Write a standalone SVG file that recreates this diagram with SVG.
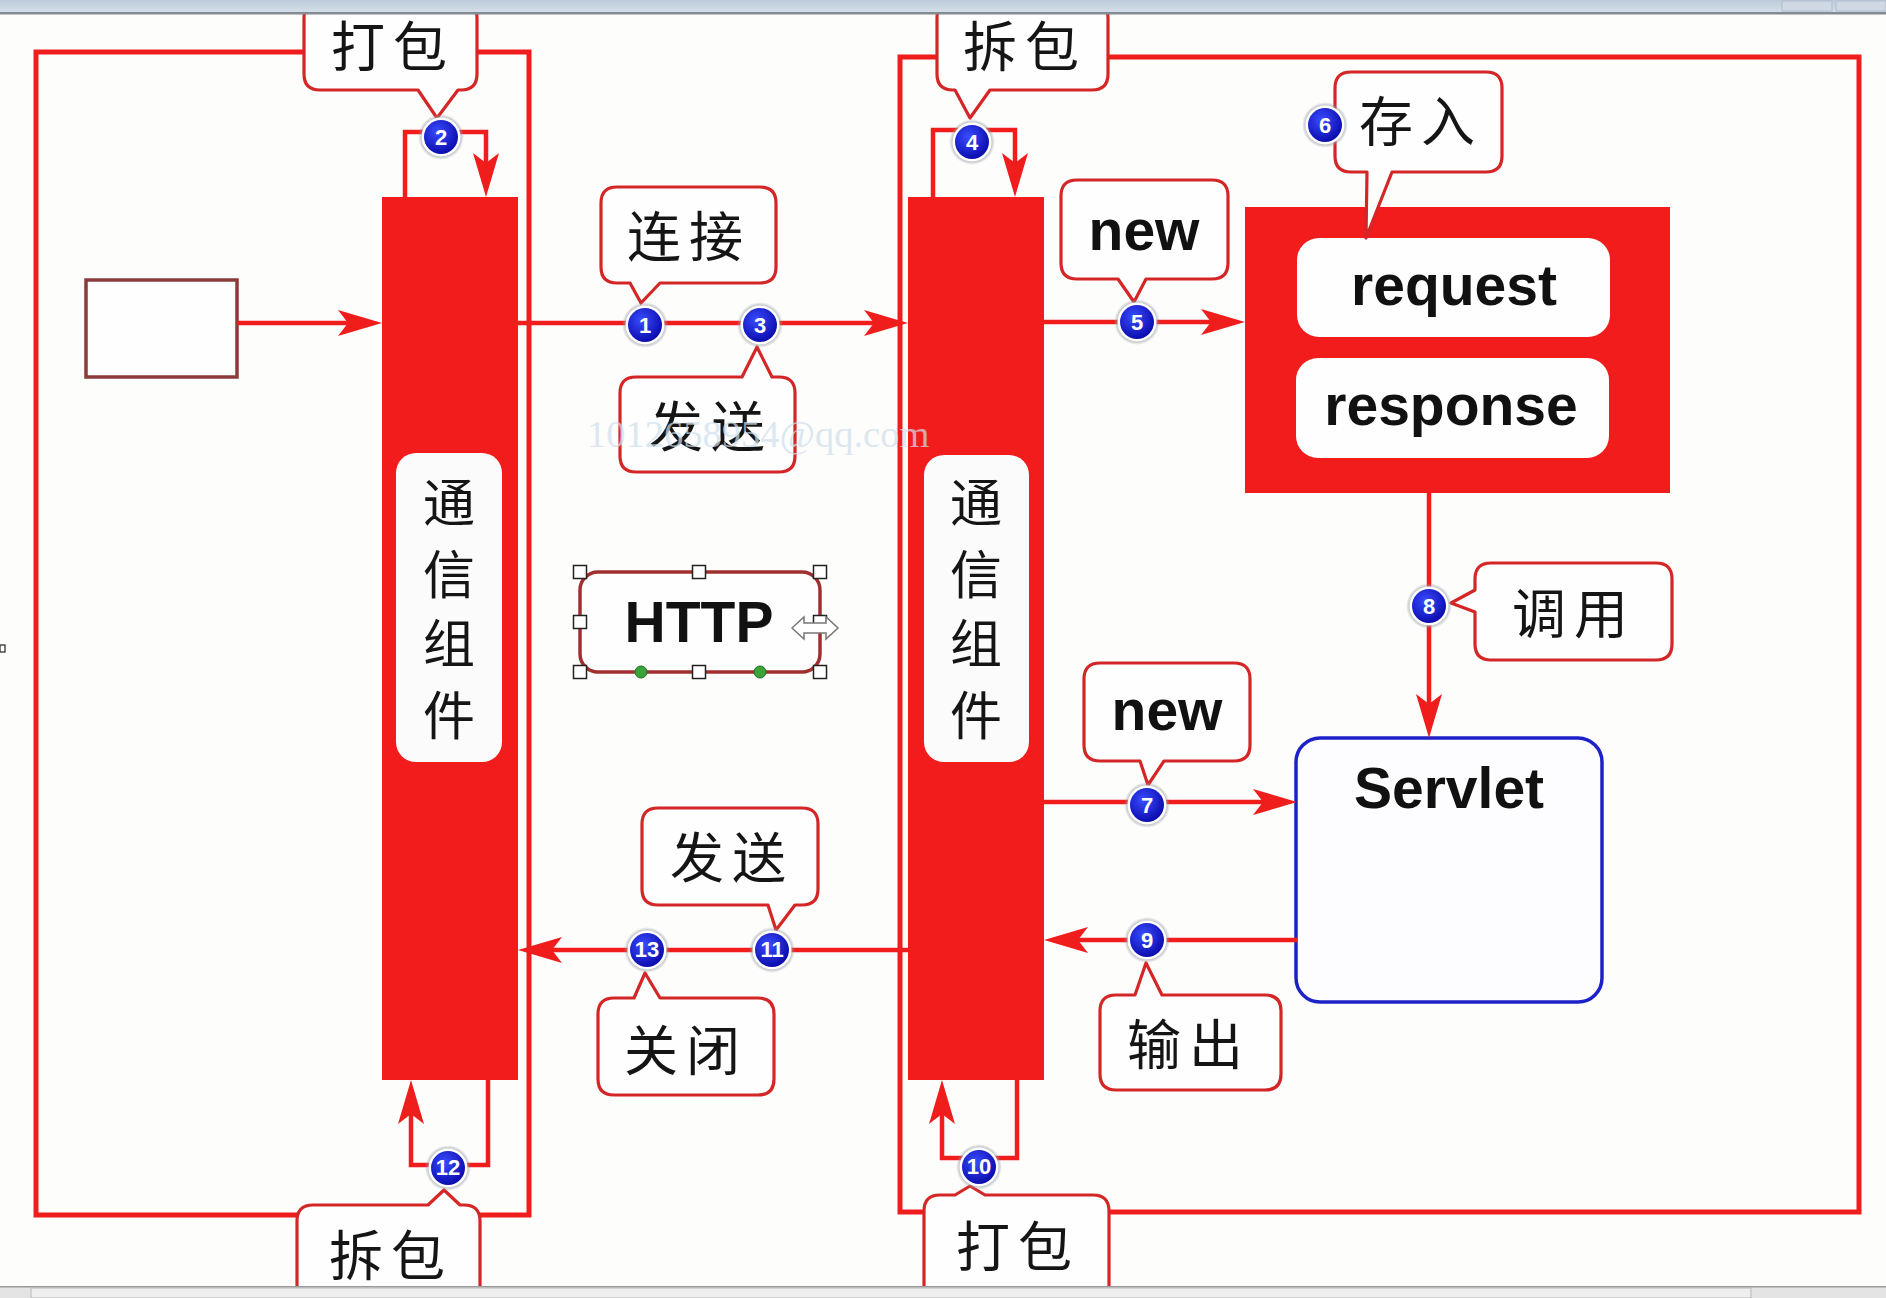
<svg xmlns="http://www.w3.org/2000/svg" width="1886" height="1298" viewBox="0 0 1886 1298">
<defs>
<style>
.frame{fill:none;stroke:#f01d1d;stroke-width:5}
.bar{fill:#f21c1c}
.conn{fill:none;stroke:#f01d1d;stroke-width:4.5}
.callout{fill:#fefefe;stroke:#d42626;stroke-width:3.2;stroke-linejoin:round}
.cjk{font-family:"Noto Sans CJK SC","Noto Sans CJK JP",sans-serif;font-size:54px;fill:#151515;text-anchor:middle;letter-spacing:8px}
.vert{font-family:"Noto Sans CJK SC","Noto Sans CJK JP",sans-serif;font-size:52px;fill:#151515;text-anchor:middle}
.en{font-family:"Liberation Sans",Arial,sans-serif;font-weight:bold;font-size:57px;fill:#111;text-anchor:middle}
.num{font-family:"Liberation Sans",Arial,sans-serif;font-weight:bold;font-size:22px;fill:#fff;text-anchor:middle}
.handle{fill:#fff;stroke:#222;stroke-width:1.5}
.label{fill:#fbfbfb}
</style>
<marker id="ah" markerUnits="userSpaceOnUse" markerWidth="46" markerHeight="28" refX="34" refY="14" orient="auto"><path d="M0,1 L44,14 L0,27 L10,14 Z" fill="#f01d1d"/></marker>
<radialGradient id="blue" cx="0.4" cy="0.35" r="0.7"><stop offset="0" stop-color="#3a4cff"/><stop offset="1" stop-color="#0808a8"/></radialGradient>
<radialGradient id="halo"><stop offset="0.75" stop-color="#9aa0a8"/><stop offset="1" stop-color="#9aa0a8" stop-opacity="0"/></radialGradient>
<linearGradient id="chrome" x1="0" y1="0" x2="0" y2="1"><stop offset="0" stop-color="#bccbdb"/><stop offset="1" stop-color="#d4dee8"/></linearGradient>
</defs>

<rect x="0" y="0" width="1886" height="1298" fill="#fdfdfb"/>

<g id="frames">
<rect class="frame" x="36" y="52" width="493" height="1163"/>
<rect class="frame" x="900" y="57" width="959" height="1155"/>
</g>

<g id="left-bar"><rect class="bar" x="382" y="197" width="136" height="883"/>
<rect class="label" x="396" y="453" width="106" height="309" rx="20"/>
<text class="vert" x="449"><tspan x="449" y="522">通</tspan><tspan x="449" y="594">信</tspan><tspan x="449" y="663">组</tspan><tspan x="449" y="735">件</tspan></text>
</g>

<g id="right-bar"><rect class="bar" x="908" y="197" width="136" height="883"/>
<rect class="label" x="924" y="455" width="105" height="307" rx="20"/>
<text class="vert" x="976"><tspan x="976" y="522">通</tspan><tspan x="976" y="594">信</tspan><tspan x="976" y="663">组</tspan><tspan x="976" y="735">件</tspan></text>
</g>

<g id="source-box"><rect x="86" y="280" width="151" height="97" fill="#fefefe" stroke="#8c3b3b" stroke-width="3.5"/></g>

<g id="req-resp">
<rect class="bar" x="1245" y="207" width="425" height="286"/>
<rect x="1297" y="238" width="313" height="99" rx="22" fill="#fefefe"/>
<text class="en" x="1454" y="305">request</text>
<rect x="1296" y="358" width="313" height="100" rx="22" fill="#fefefe"/>
<text class="en" x="1451" y="425">response</text>
</g>

<g id="servlet"><rect x="1296" y="738" width="306" height="264" rx="24" fill="#fdfdff" stroke="#1c22c8" stroke-width="3.5"/>
<text class="en" x="1449" y="808">Servlet</text></g>

<g id="connectors">
<path class="conn" d="M237,323 H372" marker-end="url(#ah)"/>
<path class="conn" d="M405,197 V132 H486 V187" marker-end="url(#ah)"/>
<path class="conn" d="M933,197 V130 H1015 V187" marker-end="url(#ah)"/>
<path class="conn" d="M518,323 H898" marker-end="url(#ah)"/>
<path class="conn" d="M1044,322 H1235" marker-end="url(#ah)"/>
<path class="conn" d="M1429,493 V728" marker-end="url(#ah)"/>
<path class="conn" d="M1044,802 H1287" marker-end="url(#ah)"/>
<path class="conn" d="M1297,940 H1054" marker-end="url(#ah)"/>
<path class="conn" d="M908,950 H528" marker-end="url(#ah)"/>
<path class="conn" d="M1017,1080 V1158 H942 V1090" marker-end="url(#ah)"/>
<path class="conn" d="M488,1080 V1165 H411 V1090" marker-end="url(#ah)"/>
</g>

<g id="callout-pack-top"><path class="callout" d="M320,2 H461 Q477,2 477,18 V74 Q477,90 461,90 H458 L437,118 L418,90 H320 Q304,90 304,74 V18 Q304,2 320,2 Z"/><text class="cjk" x="393" y="67">打包</text></g>
<g id="callout-unpack-top"><path class="callout" d="M953,2 H1092 Q1108,2 1108,18 V74 Q1108,90 1092,90 H990 L970,118 L955,90 H953 Q937,90 937,74 V18 Q937,2 953,2 Z"/><text class="cjk" x="1025" y="67">拆包</text></g>
<g id="callout-connect"><path class="callout" d="M617,187 H760 Q776,187 776,203 V267 Q776,283 760,283 H660 L641,303 L630,283 H617 Q601,283 601,267 V203 Q601,187 617,187 Z"/><text class="cjk" x="689" y="257">连接</text></g>
<g id="callout-send-top"><path class="callout" d="M636,377 H742 L757,347 L772,377 H779 Q795,377 795,393 V456 Q795,472 779,472 H636 Q620,472 620,456 V393 Q620,377 636,377 Z"/><text class="cjk" x="711" y="447">发送</text></g>
<g id="callout-new1"><path class="callout" d="M1077,180 H1212 Q1228,180 1228,196 V263 Q1228,279 1212,279 H1146 L1134,302 L1118,279 H1077 Q1061,279 1061,263 V196 Q1061,180 1077,180 Z"/><text class="en" x="1144" y="250">new</text></g>
<g id="callout-store"><path class="callout" d="M1351,72 H1486 Q1502,72 1502,88 V156 Q1502,172 1486,172 H1392 L1366,238 L1367,172 H1351 Q1335,172 1335,156 V88 Q1335,72 1351,72 Z"/><text class="cjk" x="1421" y="142">存入</text></g>
<g id="callout-invoke"><path class="callout" d="M1491,563 H1656 Q1672,563 1672,579 V644 Q1672,660 1656,660 H1491 Q1475,660 1475,644 V612 L1451,603 L1475,590 V579 Q1475,563 1491,563 Z"/><text class="cjk" x="1574" y="634">调用</text></g>
<g id="callout-new2"><path class="callout" d="M1100,663 H1234 Q1250,663 1250,679 V745 Q1250,761 1234,761 H1164 L1148,785 L1140,761 H1100 Q1084,761 1084,745 V679 Q1084,663 1100,663 Z"/><text class="en" x="1167" y="730">new</text></g>
<g id="callout-send-bottom"><path class="callout" d="M658,808 H802 Q818,808 818,824 V889 Q818,905 802,905 H795 L776,930 L768,905 H658 Q642,905 642,889 V824 Q642,808 658,808 Z"/><text class="cjk" x="732" y="878">发送</text></g>
<g id="callout-close"><path class="callout" d="M614,998 H634 L645,973 L660,998 H758 Q774,998 774,1014 V1079 Q774,1095 758,1095 H614 Q598,1095 598,1079 V1014 Q598,998 614,998 Z"/><text class="cjk" x="686" y="1071">关闭</text></g>
<g id="callout-output"><path class="callout" d="M1116,995 H1135 L1146,963 L1162,995 H1265 Q1281,995 1281,1011 V1074 Q1281,1090 1265,1090 H1116 Q1100,1090 1100,1074 V1011 Q1100,995 1116,995 Z"/><text class="cjk" x="1189" y="1065">输出</text></g>
<g id="callout-unpack-bottom"><path class="callout" d="M313,1205 H428 L444,1190 L460,1205 H464 Q480,1205 480,1221 V1310 H297 V1221 Q297,1205 313,1205 Z"/><text class="cjk" x="391" y="1276">拆包</text></g>
<g id="callout-pack-bottom"><path class="callout" d="M940,1195 H955 L970,1186 L985,1195 H1093 Q1109,1195 1109,1211 V1310 H924 V1211 Q924,1195 940,1195 Z"/><text class="cjk" x="1018" y="1267">打包</text></g>

<g id="http">
<rect x="580" y="572" width="240" height="100" rx="18" fill="#fefefe" stroke="#a03030" stroke-width="3.5"/>
<text class="en" x="699" y="642">HTTP</text>
<rect class="handle" x="573.5" y="565.5" width="13" height="13"/>
<rect class="handle" x="692.5" y="565.5" width="13" height="13"/>
<rect class="handle" x="813.5" y="565.5" width="13" height="13"/>
<rect class="handle" x="573.5" y="615.5" width="13" height="13"/>
<rect class="handle" x="813.5" y="615.5" width="13" height="13"/>
<rect class="handle" x="573.5" y="665.5" width="13" height="13"/>
<rect class="handle" x="692.5" y="665.5" width="13" height="13"/>
<rect class="handle" x="813.5" y="665.5" width="13" height="13"/>
<circle cx="641" cy="672" r="6" fill="#3aa33a" stroke="#1f6f1f" stroke-width="1"/>
<circle cx="760" cy="672" r="6" fill="#3aa33a" stroke="#1f6f1f" stroke-width="1"/>
<path d="M792,628 L804,617 V623 H826 V617 L838,628 L826,639 V633 H804 V639 Z" fill="#fff" stroke="#777" stroke-width="1.5"/>
</g>

<g id="badges">
<g transform="translate(645,325)"><circle r="23" fill="url(#halo)"/><circle r="19.5" fill="#fff"/><circle r="17" fill="url(#blue)"/><text class="num" y="8">1</text></g>
<g transform="translate(441,137)"><circle r="23" fill="url(#halo)"/><circle r="19.5" fill="#fff"/><circle r="17" fill="url(#blue)"/><text class="num" y="8">2</text></g>
<g transform="translate(760,325)"><circle r="23" fill="url(#halo)"/><circle r="19.5" fill="#fff"/><circle r="17" fill="url(#blue)"/><text class="num" y="8">3</text></g>
<g transform="translate(972,142)"><circle r="23" fill="url(#halo)"/><circle r="19.5" fill="#fff"/><circle r="17" fill="url(#blue)"/><text class="num" y="8">4</text></g>
<g transform="translate(1137,322)"><circle r="23" fill="url(#halo)"/><circle r="19.5" fill="#fff"/><circle r="17" fill="url(#blue)"/><text class="num" y="8">5</text></g>
<g transform="translate(1325,125)"><circle r="23" fill="url(#halo)"/><circle r="19.5" fill="#fff"/><circle r="17" fill="url(#blue)"/><text class="num" y="8">6</text></g>
<g transform="translate(1147,805)"><circle r="23" fill="url(#halo)"/><circle r="19.5" fill="#fff"/><circle r="17" fill="url(#blue)"/><text class="num" y="8">7</text></g>
<g transform="translate(1429,606)"><circle r="23" fill="url(#halo)"/><circle r="19.5" fill="#fff"/><circle r="17" fill="url(#blue)"/><text class="num" y="8">8</text></g>
<g transform="translate(1147,940)"><circle r="23" fill="url(#halo)"/><circle r="19.5" fill="#fff"/><circle r="17" fill="url(#blue)"/><text class="num" y="8">9</text></g>
<g transform="translate(979,1167)"><circle r="23" fill="url(#halo)"/><circle r="19.5" fill="#fff"/><circle r="17" fill="url(#blue)"/><text class="num" y="7" font-size="19">10</text></g>
<g transform="translate(772,950)"><circle r="23" fill="url(#halo)"/><circle r="19.5" fill="#fff"/><circle r="17" fill="url(#blue)"/><text class="num" y="7" font-size="19">11</text></g>
<g transform="translate(448,1168)"><circle r="23" fill="url(#halo)"/><circle r="19.5" fill="#fff"/><circle r="17" fill="url(#blue)"/><text class="num" y="7" font-size="19">12</text></g>
<g transform="translate(647,950)"><circle r="23" fill="url(#halo)"/><circle r="19.5" fill="#fff"/><circle r="17" fill="url(#blue)"/><text class="num" y="7" font-size="19">13</text></g>
</g>

<text id="watermark" x="587" y="447" font-family="Liberation Serif,serif" font-size="38.5" fill="#cfdfec" opacity="0.7">1012658954@qq.com</text>

<g id="chrome">
<rect x="0" y="0" width="1886" height="12" fill="url(#chrome)"/>
<rect x="1782" y="1" width="50" height="10" fill="#cfd9e4" stroke="#b0bccb" stroke-width="1"/>
<rect x="1836" y="1" width="50" height="10" fill="#cfd9e4" stroke="#b0bccb" stroke-width="1"/>
<rect x="0" y="12" width="1886" height="2.5" fill="#848b93"/>
<rect x="0" y="1286" width="1886" height="12" fill="#e4e4e4"/>
<rect x="0" y="1286" width="1886" height="1.5" fill="#9a9a9a"/>
<rect x="31" y="1288" width="1720" height="10" fill="#eeeeee" stroke="#b8b8b8" stroke-width="1"/>
<rect x="0" y="645" width="5" height="7" fill="#fff" stroke="#222" stroke-width="1.2"/>
</g>
</svg>
